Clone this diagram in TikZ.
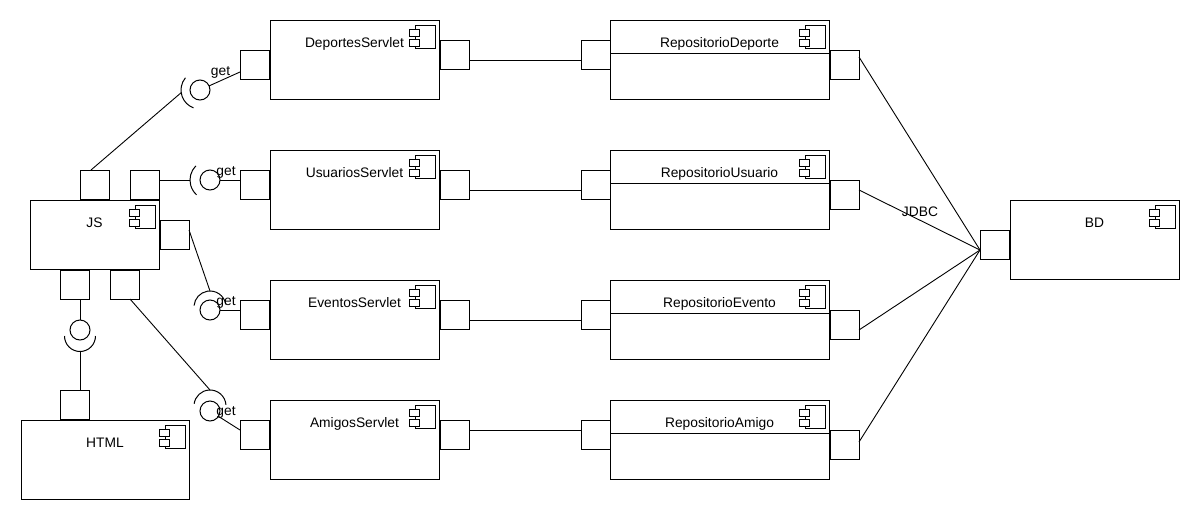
\documentclass[tikz,border=0pt]{standalone}
\usepackage{fontspec}
\setmainfont{Liberation Sans}
\tikzset{
  comp/.style={draw, fill=white, inner sep=0pt, outer sep=0pt, anchor=north west},
  port/.style={draw, fill=white, inner sep=0pt, outer sep=0pt, minimum width=29pt, minimum height=29pt, anchor=north west},
  ball/.style={circle, draw, inner sep=0pt, outer sep=0pt, minimum size=20pt},
  lbl/.style={font=\fontsize{13.8}{16}\selectfont, anchor=base, inner sep=0pt},
  wire/.style={line width=0.9pt},
  compicon/.pic={
    \draw[fill=white] (-24,5) rectangle (-4,28);
    \draw[fill=white] (-30,9) rectangle (-20,16);
    \draw[fill=white] (-30,19) rectangle (-20,26);
  }
}
\begin{document}
\begin{tikzpicture}[x=1pt,y=-1pt,line width=1pt]
\fill[white] (0,0) rectangle (1200,520);
\useasboundingbox (0,0) rectangle (1200,520);

% ---------- component boxes ----------
\node[comp, minimum width=129pt, minimum height=69pt] (js) at (30,200) {};
\node[comp, minimum width=168pt, minimum height=79pt] (html) at (21,420) {};
\node[comp, minimum width=169pt, minimum height=79pt] (ds) at (270,20) {};
\node[comp, minimum width=169pt, minimum height=79pt] (us) at (270,150) {};
\node[comp, minimum width=169pt, minimum height=79pt] (es) at (270,280) {};
\node[comp, minimum width=169pt, minimum height=79pt] (as) at (270,400) {};
\node[comp, minimum width=219pt, minimum height=79pt] (rd) at (610,20) {};
\node[comp, minimum width=219pt, minimum height=79pt] (ru) at (610,150) {};
\node[comp, minimum width=219pt, minimum height=79pt] (re) at (610,280) {};
\node[comp, minimum width=219pt, minimum height=79pt] (ra) at (610,400) {};
\node[comp, minimum width=169pt, minimum height=79pt] (bd) at (1010,200) {};

% repository compartments
\foreach \r in {rd,ru,re,ra}{
  \draw ([yshift=-33pt]\r.north west) -- ([yshift=-33pt]\r.north east);
}

% component icons
\foreach \c in {js,html,ds,us,es,as,rd,ru,re,ra,bd}{
  \pic at (\c.north east) {compicon};
}

% ---------- labels ----------
\node[lbl] (jst) at (94.5,227) {JS};
\node[lbl] (htmlt) at (105,447) {HTML};
\node[lbl] (dst) at (354.5,47) {DeportesServlet};
\node[lbl] (ust) at (354.5,177) {UsuariosServlet};
\node[lbl] (est) at (354.5,307) {EventosServlet};
\node[lbl] (ast) at (354.5,427) {AmigosServlet};
\node[lbl] (rdt) at (719.5,47) {RepositorioDeporte};
\node[lbl] (rut) at (719.5,177) {RepositorioUsuario};
\node[lbl] (ret) at (719.5,307) {RepositorioEvento};
\node[lbl] (rat) at (719.5,427) {RepositorioAmigo};
\node[lbl] (bdt) at (1094.5,227) {BD};

% ---------- ports ----------
\node[port] (jsT1) at (80,170) {};
\node[port] (jsT2) at (130,170) {};
\node[port] (jsR) at (160,220) {};
\node[port] (jsB1) at (60,270) {};
\node[port] (jsB2) at (110,270) {};
\node[port] (htmlT) at (60,390) {};
\node[port] (dsL) at (240,50) {};
\node[port] (dsR) at (440,40) {};
\node[port] (usL) at (240,170) {};
\node[port] (usR) at (440,170) {};
\node[port] (esL) at (240,300) {};
\node[port] (esR) at (440,300) {};
\node[port] (asL) at (240,420) {};
\node[port] (asR) at (440,420) {};
\node[port] (rdL) at (581,40) {};
\node[port] (rdR) at (830,50) {};
\node[port] (ruL) at (581,170) {};
\node[port] (ruR) at (830,180) {};
\node[port] (reL) at (581,300) {};
\node[port] (reR) at (830,310) {};
\node[port] (raL) at (581,420) {};
\node[port] (raR) at (830,430) {};
\node[port] (bdP) at (980,230) {};

% ---------- servlet -> repository ----------
\draw[wire] ([yshift=-20pt]dsR.north east) -- ([yshift=-20pt]rdL.north west);
\draw[wire] ([yshift=-20pt]usR.north east) -- ([yshift=-20pt]ruL.north west);
\draw[wire] ([yshift=-20pt]esR.north east) -- ([yshift=-20pt]reL.north west);
\draw[wire] ([yshift=-10pt]asR.north east) -- ([yshift=-10pt]raL.north west);

% ---------- repository -> BD ----------
\coordinate (bdIn) at ([yshift=-20pt]bdP.north west);
\draw[wire] ([yshift=-7pt]rdR.north east) -- (bdIn);
\draw[wire] ([yshift=-10pt]ruR.north east) -- (bdIn);
\draw[wire] ([yshift=-20pt]reR.north east) -- (bdIn);
\draw[wire] ([yshift=-12pt]raR.north east) -- (bdIn);
\node[lbl] (jdbc) at (920,216) {JDBC};

% ---------- lollipops ----------
% Deportes
\node[ball] (b1) at (200,90) {};
\draw ([shift={(140:19pt)}]b1.center) arc[start angle=140, end angle=250, radius=19pt];
\coordinate (s1) at ([shift={(188:19pt)}]b1.center);
\draw[wire] ([xshift=11pt]jsT1.north west) -- (s1);
\draw[wire] (b1) -- ([yshift=-22pt]dsL.north west);
\node[lbl] (g1) at (220.5,75) {get};

% Usuarios
\node[ball] (b2) at (210,180) {};
\draw ([shift={(135:20pt)}]b2.center) arc[start angle=135, end angle=228, radius=20pt];
\coordinate (s2) at ([shift={(180:20pt)}]b2.center);
\draw[wire] ([yshift=-10pt]jsT2.north east) -- (s2);
\draw[wire] (b2) -- ([yshift=-10pt]usL.north west);
\node[lbl] (g2) at (226,175) {get};

% Eventos
\node[ball] (b3) at (210,310) {};
\coordinate (c3) at (210,307);
\draw ([shift={(10:16pt)}]c3) arc[start angle=10, end angle=175, radius=16pt];
\coordinate (s3) at ([shift={(90:16pt)}]c3);
\draw[wire] ([yshift=-10pt]jsR.north east) -- (s3);
\draw[wire] (b3) -- ([yshift=-10pt]esL.north west);
\node[lbl] (g3) at (226,305) {get};

% Amigos
\node[ball] (b4) at (210,411) {};
\coordinate (c4) at (210,406);
\draw ([shift={(4:16pt)}]c4) arc[start angle=4, end angle=172, radius=16pt];
\coordinate (s4) at ([shift={(90:16pt)}]c4);
\draw[wire] ([xshift=20pt]jsB2.south west) -- (s4);
\draw[wire] (b4) -- ([yshift=-10pt]asL.north west);
\node[lbl] (g4) at (226,415) {get};

% JS - HTML
\node[ball] (b5) at (80,330) {};
\coordinate (c5) at (80,336);
\draw ([shift={(180:15.5pt)}]c5) arc[start angle=180, end angle=360, radius=15.5pt];
\coordinate (s5) at ([shift={(270:15.5pt)}]c5);
\draw[wire] ([xshift=20pt]jsB1.south west) -- (b5);
\draw[wire] (s5) -- ([xshift=20pt]htmlT.north west);
\end{tikzpicture}
\end{document}
